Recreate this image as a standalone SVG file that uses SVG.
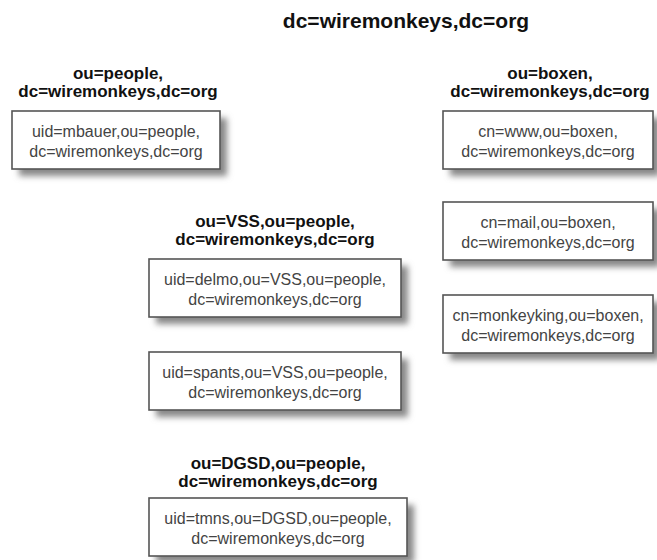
<svg xmlns="http://www.w3.org/2000/svg" width="657" height="560" viewBox="0 0 657 560">
<style>
.title{font-family:"Liberation Sans",Arial,sans-serif;font-weight:bold;font-size:21px;fill:#111;text-anchor:middle}
.hdr{font-family:"Liberation Sans",Arial,sans-serif;font-weight:bold;font-size:17px;fill:#111;text-anchor:middle}
.txt{font-family:"Liberation Sans",Arial,sans-serif;font-size:16px;fill:#444;text-anchor:middle}
.box{fill:#fff;stroke:#555;stroke-width:1.6}
.sh{fill:#888;filter:url(#blur)}
</style>
<defs>
<filter id="blur" x="-20%" y="-40%" width="140%" height="180%"><feGaussianBlur stdDeviation="3"/></filter>
</defs>
<rect width="657" height="560" fill="#fff"/>
<g id="root"><text class="title" x="406" y="28">dc=wiremonkeys,dc=org</text></g>

<g id="people">
<text class="hdr" x="118" y="79">ou=people,</text>
<text class="hdr" x="118" y="97">dc=wiremonkeys,dc=org</text>
</g>
<g id="mbauer">
<rect class="sh" x="19" y="118" width="208" height="58"/>
<rect class="box" x="12" y="111" width="208" height="58"/>
<text class="txt" x="116" y="137">uid=mbauer,ou=people,</text>
<text class="txt" x="116" y="157">dc=wiremonkeys,dc=org</text>
</g>

<g id="boxen">
<text class="hdr" x="550" y="79">ou=boxen,</text>
<text class="hdr" x="550" y="97">dc=wiremonkeys,dc=org</text>
</g>
<g id="www">
<rect class="sh" x="450" y="118" width="210" height="58"/>
<rect class="box" x="443" y="111" width="210" height="58"/>
<text class="txt" x="548" y="137">cn=www,ou=boxen,</text>
<text class="txt" x="548" y="157">dc=wiremonkeys,dc=org</text>
</g>
<g id="mail">
<rect class="sh" x="450" y="209" width="210" height="58"/>
<rect class="box" x="443" y="202" width="210" height="58"/>
<text class="txt" x="548" y="228">cn=mail,ou=boxen,</text>
<text class="txt" x="548" y="248">dc=wiremonkeys,dc=org</text>
</g>
<g id="monkeyking">
<rect class="sh" x="450" y="302" width="210" height="58"/>
<rect class="box" x="443" y="295" width="210" height="58"/>
<text class="txt" x="548" y="321">cn=monkeyking,ou=boxen,</text>
<text class="txt" x="548" y="341">dc=wiremonkeys,dc=org</text>
</g>

<g id="vss">
<text class="hdr" x="275" y="227">ou=VSS,ou=people,</text>
<text class="hdr" x="275" y="245">dc=wiremonkeys,dc=org</text>
</g>
<g id="delmo">
<rect class="sh" x="156" y="266" width="252" height="58"/>
<rect class="box" x="149" y="259" width="252" height="58"/>
<text class="txt" x="275" y="285">uid=delmo,ou=VSS,ou=people,</text>
<text class="txt" x="275" y="305">dc=wiremonkeys,dc=org</text>
</g>
<g id="spants">
<rect class="sh" x="156" y="359" width="252" height="58"/>
<rect class="box" x="149" y="352" width="252" height="58"/>
<text class="txt" x="275" y="378">uid=spants,ou=VSS,ou=people,</text>
<text class="txt" x="275" y="398">dc=wiremonkeys,dc=org</text>
</g>

<g id="dgsd">
<text class="hdr" x="278" y="469">ou=DGSD,ou=people,</text>
<text class="hdr" x="278" y="487">dc=wiremonkeys,dc=org</text>
</g>
<g id="tmns">
<rect class="sh" x="156" y="505" width="258" height="58"/>
<rect class="box" x="149" y="498" width="258" height="58"/>
<text class="txt" x="278" y="524">uid=tmns,ou=DGSD,ou=people,</text>
<text class="txt" x="278" y="544">dc=wiremonkeys,dc=org</text>
</g>
<g id="connectors"/>
</svg>
